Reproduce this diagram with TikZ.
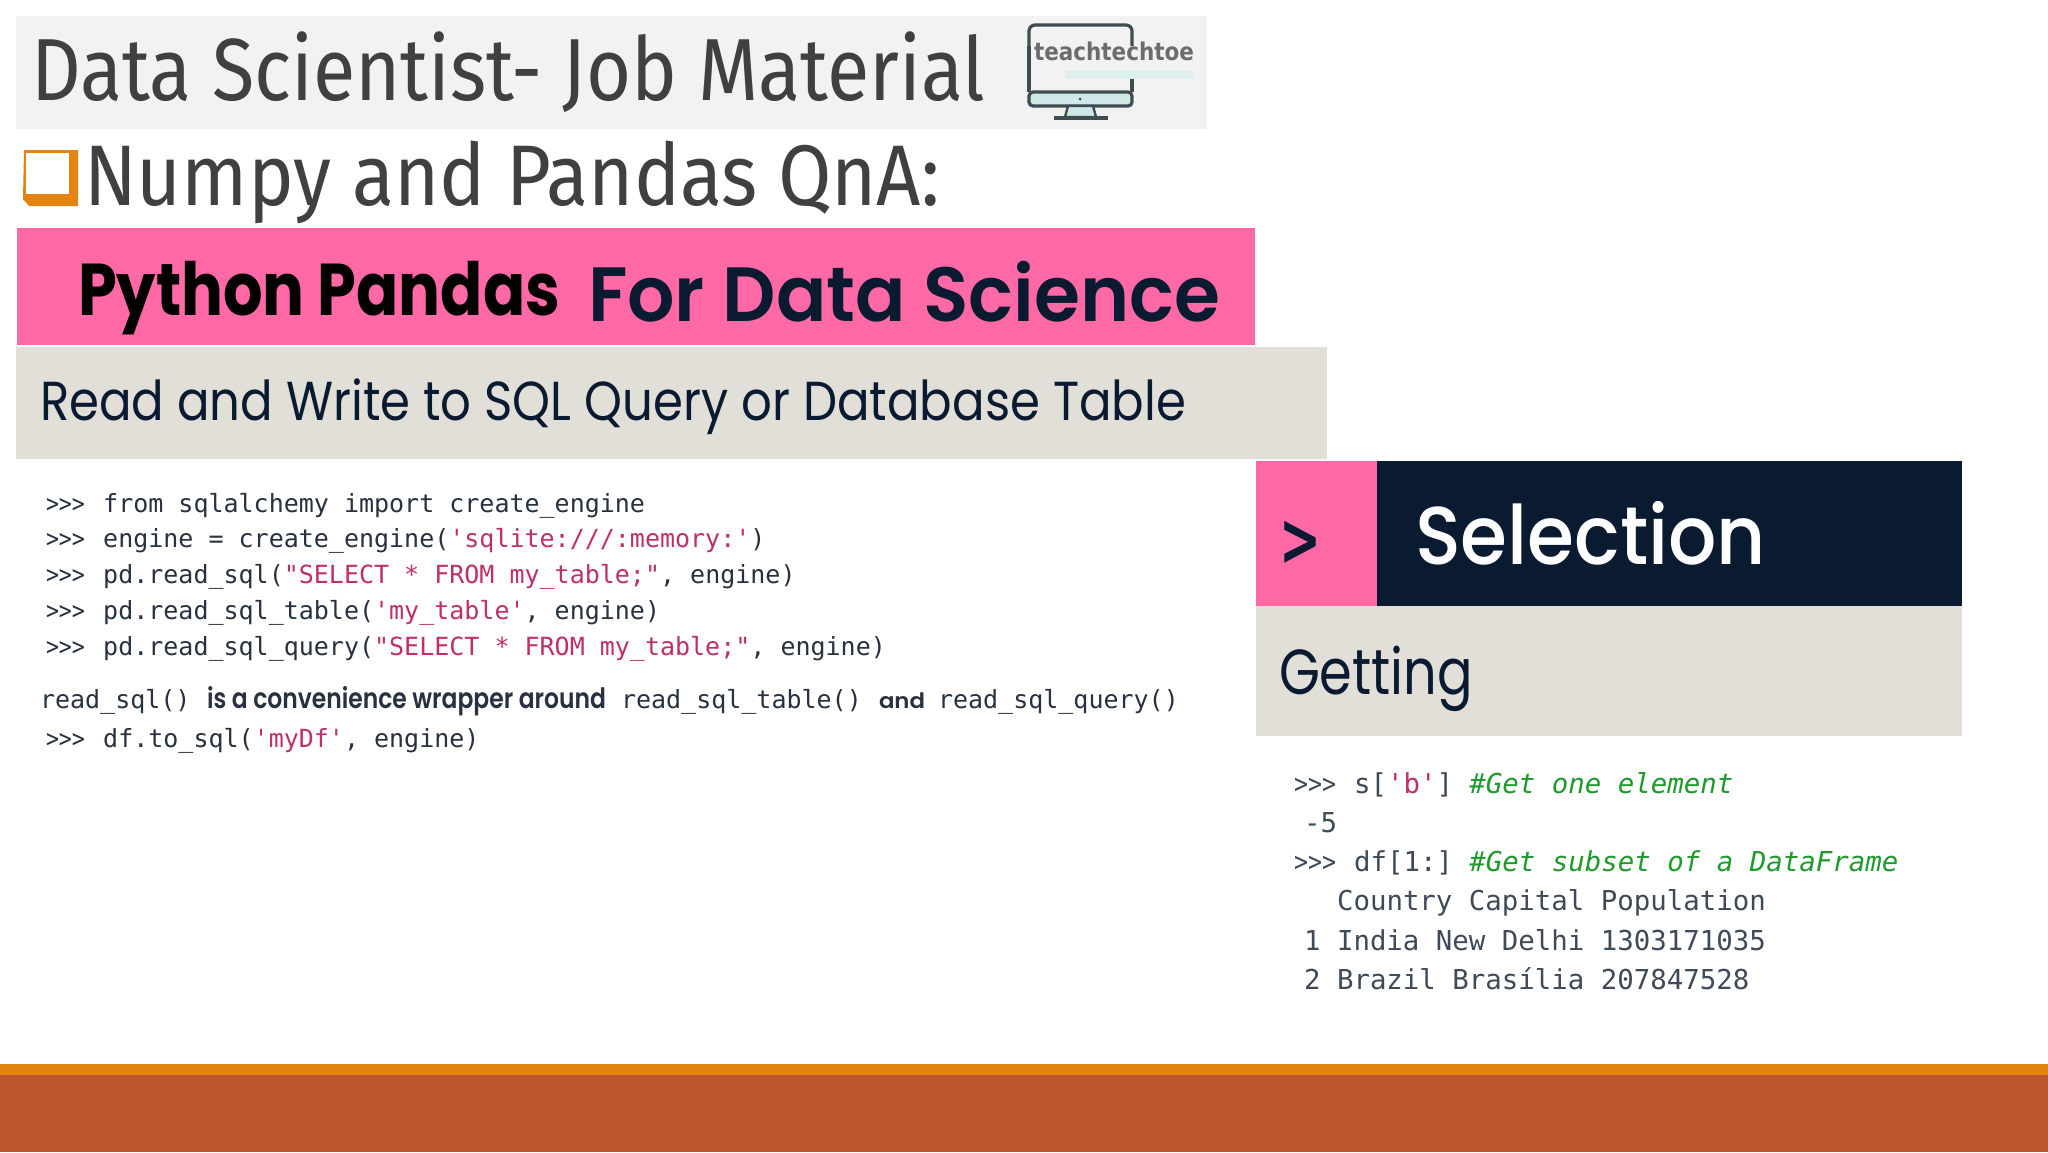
\documentclass[tikz,border=0pt]{standalone}
\usepackage{graphicx}
\usepackage{fontspec}
\setmainfont{Fira Sans}
\newfontfamily\ttl{Fira Sans}
\newfontfamily\pop{Poppins}
\newfontfamily\popb{Poppins}[UprightFont=* SemiBold]
\newfontfamily\popx{Poppins}[UprightFont=* Bold]
\newfontfamily\popm{Poppins}[UprightFont=* Medium]
\newfontfamily\cod{DejaVu Sans Mono}
\newfontfamily\dej{DejaVu Sans}
\definecolor{titlebg}{HTML}{F2F2F2}
\definecolor{dk}{HTML}{404040}
\definecolor{pinkbar}{HTML}{FF69A6}
\definecolor{navy}{HTML}{0A1A30}
\definecolor{sand}{HTML}{E1DFD8}
\definecolor{orangeline}{HTML}{E48312}
\definecolor{brownbar}{HTML}{BD582C}
\definecolor{codepink}{HTML}{BE2F6B}
\definecolor{codetx}{HTML}{27313F}
\definecolor{codegreen}{HTML}{1F9A2D}
\definecolor{graytx}{HTML}{3F4A58}
\definecolor{logoline}{HTML}{3F4C52}
\definecolor{logoblue}{HTML}{CFE9E8}
\newcommand{\pk}[1]{\textcolor{codepink}{#1}}
\newcommand{\gn}[1]{\textcolor{codegreen}{\itshape #1}}
\newcommand{\codeL}{\frenchspacing\cod\fontsize{12.5}{12.5}\selectfont\color{codetx}}
\newcommand{\codeR}{\frenchspacing\cod\fontsize{13.7}{13.7}\selectfont\color{graytx}}
\newcommand{\fw}[2]{\resizebox{#1}{\totalheight}{#2}}
\newcommand{\prL}{\makebox[30.1pt][l]{\hspace{1.5pt}\resizebox{19.5pt}{\totalheight}{>>>}}}
\newcommand{\prR}{\makebox[33pt][l]{\hspace{3pt}\resizebox{21pt}{\totalheight}{>>>}}}
\tikzset{
  txt/.style={inner sep=0pt,outer sep=0pt,anchor=base west}
}
\begin{document}
\begin{tikzpicture}[x=0.5pt,y=-0.5pt]
\useasboundingbox (0,0) rectangle (2048,1152);
\fill[white] (0,0) rectangle (2048,1152);
% panels
\fill[titlebg] (16,16) rectangle (1207,129);
\fill[pinkbar] (17,228) rectangle (1255,345);
\fill[sand] (16,347) rectangle (1327,459);
\fill[pinkbar] (1256,461) rectangle (1377,606);
\fill[navy] (1377,461) rectangle (1962,606);
\fill[sand] (1256,606) rectangle (1962,736);
\fill[orangeline] (0,1064) rectangle (2048,1075);
\fill[brownbar] (0,1075) rectangle (2048,1152);
% title
\node[txt,text=dk] (title) at (31,100) {\fw{477pt}{\ttl\fontsize{37.5}{37.5}\selectfont Data Scientist- Job Material}};
% logo
\draw[logoline,line width=1.6pt,rounded corners=3pt] (1029,46) -- (1029,25) -- (1132,25) -- (1132,46);
\draw[logoline,line width=1.6pt] (1029,46) -- (1029,92);
\draw[logoline,line width=1.6pt] (1132,78) -- (1132,92);
\fill[logoblue,draw=logoline,line width=1.6pt,rounded corners=2pt] (1029,92) rectangle (1132,106);
\fill[logoblue,draw=logoline,line width=1.2pt] (1068,106) -- (1093,106) -- (1096,117) -- (1065,117) -- cycle;
\draw[logoline,line width=1.6pt] (1054,118) -- (1108,118);
\fill[logoline] (1080,99) circle (1.5);
\fill[logoblue!70!white] (1065,71) rectangle (1194,79);
\node[txt,text=gray!85!black] (logotext) at (1034,60) {\fw{80pt}{\dej\bfseries\fontsize{12}{12}\selectfont teachtechtoe}};
% bullet
\fill[orangeline] (24,150) -- (78,150) -- (78,206) -- (29,206) -- (23,199) -- cycle;
\fill[white] (26,153) -- (69,153) -- (69,194) -- (26,194) -- cycle;
\node[txt,text=dk] (numpy) at (84,205) {\fw{428pt}{\ttl\fontsize{33.5}{33.5}\selectfont Numpy and Pandas QnA:}};
% pink heading
\node[txt,text=black] (python) at (78,315) {\fw{241pt}{\popx\fontsize{27}{27}\selectfont Python Pandas}};
\node[txt,text=navy] (fords) at (588,321) {\fw{316pt}{\popb\fontsize{38}{38}\selectfont For Data Science}};
\node[txt,text=navy] (readwrite) at (40,420) {\fw{573pt}{\pop\fontsize{20.5}{20.5}\selectfont Read and Write to SQL Query or Database Table}};
% left code
\node[txt] (l1) at (43,512) {\codeL \prL from sqlalchemy import create\_engine};
\node[txt] (l2) at (43,547) {\codeL \prL engine = create\_engine(\pk{'sqlite:///:memory:'})};
\node[txt] (l3) at (43,583) {\codeL \prL pd.read\_sql(\pk{"SELECT * FROM my\_table;"}, engine)};
\node[txt] (l4) at (43,619) {\codeL \prL pd.read\_sql\_table(\pk{'my\_table'}, engine)};
\node[txt] (l5) at (43,655) {\codeL \prL pd.read\_sql\_query(\pk{"SELECT * FROM my\_table;"}, engine)};
\node[txt] (n1) at (40,708) {\codeL read\_sql()};
\node[txt,text=codetx] (n2) at (207,708) {\fw{199.5pt}{\popb\fontsize{10.5}{10.5}\selectfont is a convenience wrapper around}};
\node[txt] (n3) at (621,708) {\codeL read\_sql\_table()};
\node[txt,text=codetx] (n4) at (879,708) {\fw{23pt}{\popb\fontsize{10.5}{10.5}\selectfont and}};
\node[txt] (n5) at (938,708) {\codeL read\_sql\_query()};
\node[txt] (l6) at (43,747) {\codeL \prL df.to\_sql(\pk{'myDf'}, engine)};
% selection
\node[txt,text=navy] (chev) at (1279,565) {\fw{21pt}{\dej\bfseries\fontsize{37}{37}\selectfont >}};
\node[txt,text=white] (sel) at (1415,564) {\fw{175.5pt}{\popm\fontsize{40.5}{40.5}\selectfont Selection}};
\node[txt,text=navy] (get) at (1279,694) {\fw{97pt}{\pop\fontsize{23.5}{23.5}\selectfont Getting}};
% right code
\node[txt] (r1) at (1288,793) {\codeR \prR s[\pk{'b'}] \gn{\#Get one element}};
\node[txt] (r2) at (1304,832) {\codeR -5};
\node[txt] (r3) at (1288,871) {\codeR \prR df[1:] \gn{\#Get subset of a DataFrame}};
\node[txt] (r4) at (1337,910) {\codeR Country Capital Population};
\node[txt] (r5) at (1304,950) {\codeR 1 India New Delhi 1303171035};
\node[txt] (r6) at (1304,989) {\codeR 2 Brazil Brasília 207847528};
\end{tikzpicture}
\end{document}
